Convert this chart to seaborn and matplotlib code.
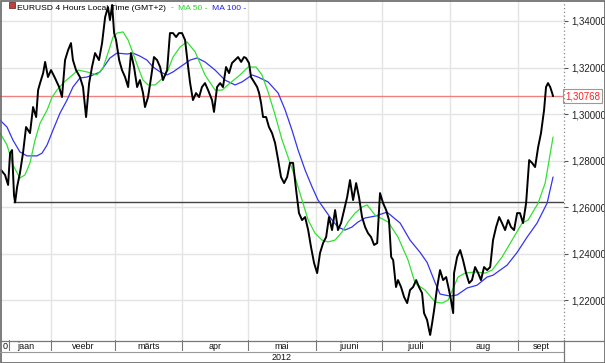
import matplotlib
matplotlib.use("Agg")
import matplotlib.pyplot as plt
import matplotlib.transforms as mtransforms
from matplotlib.lines import Line2D
from matplotlib.patches import Rectangle
from matplotlib.ticker import FixedLocator, FuncFormatter
import pandas as pd
import seaborn as sns

# ---------------- data (day = days since 2012-01-01) ----------------
price_day = [8.2, 10.0, 11.4, 12.3, 13.2, 14.1, 14.6, 15.5, 16.8, 18.2, 19.6, 21.4, 22.8, 24.2, 25.1, 26.0,
             27.4, 28.3, 29.6, 31.0, 32.8, 34.7, 36.0, 37.4, 38.8, 40.1, 41.0, 42.4, 44.2, 45.6, 47.0, 48.4,
             49.7, 51.1, 52.9, 54.3, 55.7, 57.0, 57.9, 58.9, 59.8, 60.7, 62.1, 63.4, 64.8, 66.2, 67.5, 68.9,
             70.3, 71.6, 73.0, 73.9, 75.3, 76.7, 78.0, 79.4, 80.8, 82.1, 84.0, 85.3, 86.7, 88.1, 89.4, 90.8,
             92.2, 93.6, 94.5, 95.8, 97.2, 98.6, 99.9, 101.3, 102.7, 104.5, 105.4, 106.8, 108.2, 109.5, 110.9,
             112.3, 113.6, 115.0, 116.4, 117.8, 119.1, 120.0, 121.4, 122.3, 123.7, 125.1, 126.0, 126.9, 127.8,
             129.2, 130.5, 131.9, 133.3, 134.7, 136.0, 137.4, 138.8, 140.1, 141.5, 142.9, 144.2, 145.6, 147.0,
             148.4, 149.7, 151.1, 152.5, 153.8, 155.2, 156.6, 157.9, 159.3, 160.7, 162.0, 163.4, 164.8, 166.2,
             167.5, 168.9, 170.3, 171.6, 173.0, 174.4, 175.7, 177.1, 178.5, 179.9, 181.2, 182.6, 184.0, 185.3,
             186.3, 187.2, 188.5, 189.4, 190.8, 192.2, 193.6, 194.9, 196.3, 197.7, 199.0, 200.4, 201.3, 202.7,
             203.6, 204.1, 205.0, 205.9, 207.3, 208.6, 210.0, 211.4, 212.7, 213.6, 214.6, 215.0, 216.4, 217.8,
             219.1, 220.5, 221.9, 223.2, 224.6, 226.0, 227.3, 228.7, 230.1, 231.5, 232.8, 234.2, 235.6, 236.9,
             238.3, 239.7, 241.0, 242.4, 243.8, 245.1, 246.5, 247.9, 249.3, 250.6, 252.0, 253.4, 254.7, 256.1,
             257.0, 257.9, 258.9, 259.8, 260.2]
price = [1.2759, 1.2738, 1.2695, 1.2832, 1.2845, 1.2650, 1.2620, 1.2686, 1.2746, 1.2832, 1.2944, 1.2918,
         1.3030, 1.2987, 1.3103, 1.3133, 1.3176, 1.3224, 1.3159, 1.3189, 1.3155, 1.3116, 1.3073, 1.3232,
         1.3275, 1.3305, 1.3232, 1.3189, 1.3159, 1.3116, 1.2987, 1.3133, 1.3202, 1.3262, 1.3232, 1.3305,
         1.3417, 1.3460, 1.3404, 1.3469, 1.3348, 1.3318, 1.3232, 1.3189, 1.3159, 1.3116, 1.3262, 1.3202,
         1.3116, 1.3146, 1.3090, 1.3030, 1.3073, 1.3159, 1.3245, 1.3232, 1.3202, 1.3146, 1.3189, 1.3348,
         1.3348, 1.3331, 1.3348, 1.3348, 1.3318, 1.3202, 1.3133, 1.3060, 1.3090, 1.3073, 1.3116, 1.3133,
         1.3103, 1.3060, 1.3009, 1.3116, 1.3133, 1.3116, 1.3202, 1.3176, 1.3219, 1.3232, 1.3245, 1.3224,
         1.3245, 1.3241, 1.3219, 1.3159, 1.3138, 1.3116, 1.3090, 1.3047, 1.2987, 1.2987, 1.2944, 1.2918,
         1.2875, 1.2802, 1.2729, 1.2703, 1.2729, 1.2790, 1.2790, 1.2673, 1.2574, 1.2544, 1.2557, 1.2501,
         1.2428, 1.2359, 1.2316, 1.2402, 1.2445, 1.2471, 1.2557, 1.2501, 1.2587, 1.2501, 1.2531, 1.2587,
         1.2643, 1.2716, 1.2630, 1.2703, 1.2643, 1.2557, 1.2514, 1.2488, 1.2471, 1.2437, 1.2445, 1.2660,
         1.2617, 1.2587, 1.2544, 1.2385, 1.2372, 1.2256, 1.2286, 1.2256, 1.2213, 1.2187, 1.2243, 1.2256,
         1.2286, 1.2256, 1.2230, 1.2144, 1.2114, 1.2071, 1.2050, 1.2101, 1.2157, 1.2256, 1.2329, 1.2286,
         1.2299, 1.2243, 1.2200, 1.2144, 1.2316, 1.2385, 1.2415, 1.2372, 1.2316, 1.2273, 1.2286, 1.2342,
         1.2316, 1.2286, 1.2342, 1.2329, 1.2342, 1.2458, 1.2514, 1.2557, 1.2531, 1.2501, 1.2544, 1.2514,
         1.2501, 1.2574, 1.2574, 1.2531, 1.2617, 1.2802, 1.2790, 1.2772, 1.2858, 1.2918, 1.3017, 1.3116,
         1.3133, 1.3116, 1.3090, 1.30768]

ma50_day = [7.7, 10.9, 13.6, 16.8, 19.1, 21.4, 23.7, 26.0, 29.2, 31.5, 33.7, 36.5, 39.7, 43.3, 47.4, 52.0,
            54.7, 57.0, 59.3, 61.1, 63.9, 66.2, 68.4, 70.7, 73.0, 75.3, 78.5, 82.1, 84.4, 86.7, 89.9, 93.1,
            96.8, 99.0, 101.3, 105.9, 109.1, 112.7, 117.3, 121.0, 124.6, 127.3, 130.1, 133.3, 136.5, 139.2,
            142.4, 145.6, 148.4, 151.5, 154.7, 157.5, 160.7, 163.9, 166.6, 169.8, 173.0, 175.3, 179.0, 184.9,
            189.4, 194.0, 197.2, 201.8, 206.3, 209.5, 212.3, 216.8, 220.0, 224.6, 229.2, 232.4, 236.9, 241.5,
            246.1, 248.8, 253.4, 256.6, 260.2]
ma50 = [1.2918, 1.2867, 1.2781, 1.2725, 1.2738, 1.2790, 1.2888, 1.2961, 1.3017, 1.3073, 1.3103, 1.3133,
        1.3159, 1.3189, 1.3181, 1.3168, 1.3198, 1.3262, 1.3331, 1.3348, 1.3353, 1.3318, 1.3262, 1.3202,
        1.3146, 1.3125, 1.3125, 1.3155, 1.3189, 1.3245, 1.3288, 1.3310, 1.3267, 1.3219, 1.3168, 1.3103,
        1.3103, 1.3133, 1.3168, 1.3202, 1.3202, 1.3168, 1.3095, 1.2996, 1.2888, 1.2815, 1.2729, 1.2630,
        1.2544, 1.2488, 1.2458, 1.2450, 1.2458, 1.2493, 1.2536, 1.2574, 1.2600, 1.2609, 1.2565, 1.2536,
        1.2471, 1.2372, 1.2273, 1.2243, 1.2192, 1.2187, 1.2200, 1.2299, 1.2316, 1.2321, 1.2316, 1.2329,
        1.2385, 1.2458, 1.2531, 1.2544, 1.2617, 1.2703, 1.2901]

ma100_day = [7.7, 10.9, 13.6, 16.8, 20.0, 24.6, 26.9, 29.2, 31.9, 35.1, 38.3, 41.0, 44.2, 47.4, 50.2, 53.4,
             55.7, 57.9, 61.1, 65.7, 68.4, 71.6, 74.8, 77.6, 80.8, 84.0, 86.7, 89.9, 94.5, 97.7, 101.3, 105.9,
             110.4, 115.0, 118.2, 122.8, 125.5, 130.1, 134.7, 137.9, 141.0, 143.8, 147.0, 150.2, 152.9, 156.1,
             159.3, 162.0, 165.2, 168.4, 171.2, 174.4, 178.9, 184.4, 190.4, 194.9, 199.5, 202.7, 206.3, 208.6,
             213.2, 216.4, 221.0, 225.5, 230.1, 232.8, 239.2, 243.8, 248.3, 252.9, 257.5, 260.2]
ma100 = [1.2974, 1.2944, 1.2888, 1.2837, 1.2820, 1.2820, 1.2832, 1.2867, 1.2931, 1.3004, 1.3060, 1.3116,
         1.3155, 1.3159, 1.3168, 1.3181, 1.3211, 1.3241, 1.3262, 1.3258, 1.3262, 1.3249, 1.3232, 1.3202,
         1.3181, 1.3168, 1.3181, 1.3202, 1.3232, 1.3241, 1.3224, 1.3189, 1.3146, 1.3125, 1.3138, 1.3168,
         1.3159, 1.3138, 1.3090, 1.3017, 1.2931, 1.2845, 1.2759, 1.2686, 1.2630, 1.2587, 1.2544, 1.2514,
         1.2501, 1.2514, 1.2536, 1.2553, 1.2561, 1.2578, 1.2531, 1.2458, 1.2405, 1.2362, 1.2276, 1.2226,
         1.2217, 1.2222, 1.2252, 1.2264, 1.2299, 1.2307, 1.2350, 1.2405, 1.2470, 1.2531, 1.2617, 1.2729]

last_price = 1.30768
low_level = 1.2620
low_day = 13.6
y_ticks = [1.22, 1.24, 1.26, 1.28, 1.30, 1.32, 1.34]
month_start = [0, 31, 60, 91, 121, 152, 182, 213, 244, 274]
month_labels = ["jaan", "veebr", "märts", "apr", "mai", "juuni", "juuli", "aug", "sept"]
prev_cell_end = 11.6
prev_cell_label = "0"
year_label = "2012"
title_parts = [("EURUSD 4 Hours Local Time (GMT+2)", "#000000"), ("-", "#22cc22"),
               ("MA 50 -", "#22dd22"), ("MA 100 -", "#2020ee")]

# ---------------- figure ----------------
sns.set_style("white")
plt.rcParams["font.family"] = ["Liberation Sans", "DejaVu Sans"]

W, H = 605, 363
fig = plt.figure(figsize=(W / 100, H / 100), dpi=100)
fig.patch.set_facecolor("white")

def rect(x0, y0, x1, y1):
    return [x0 / W, 1 - y1 / H, (x1 - x0) / W, (y1 - y0) / H]

ax = fig.add_axes(rect(0, 0, 564, 340))
axm = fig.add_axes(rect(0, 340, 564, 351), sharex=ax)
axy = fig.add_axes(rect(0, 351, 564, 362), sharex=ax)

XL = (7.7, 265.2)
YL = (1.20283, 1.34903)

df_p = pd.DataFrame({"day": price_day, "price": price})
df_50 = pd.DataFrame({"day": ma50_day, "v": ma50})
df_100 = pd.DataFrame({"day": ma100_day, "v": ma100})

grid_c = "#e4e4e4"
for yt in y_ticks:
    ax.axhline(yt, color=grid_c, lw=1.0, zorder=0)
for ms in month_start[1:-1]:
    ax.axvline(ms, color=grid_c, lw=1.0, zorder=0)

ax.axhline(last_price, color="#f08080", lw=1.0, zorder=1)
ax.hlines(low_level, low_day, XL[1], color="#444444", lw=1.0, zorder=1)

sns.lineplot(data=df_100, x="day", y="v", ax=ax, color="#3434f4", lw=0.9,
             estimator=None, sort=False, zorder=2)
sns.lineplot(data=df_50, x="day", y="v", ax=ax, color="#33e033", lw=0.9,
             estimator=None, sort=False, zorder=2)
sns.lineplot(data=df_p, x="day", y="price", ax=ax, color="black", lw=1.4,
             estimator=None, sort=False, zorder=3)

ax.set_xlim(*XL)
ax.set_ylim(*YL)
ax.set_xlabel("")
ax.set_ylabel("")
for s in ax.spines.values():
    s.set_visible(False)
ax.tick_params(axis="x", which="both", bottom=False, labelbottom=False)
ax.yaxis.tick_right()
ax.yaxis.set_major_locator(FixedLocator(y_ticks))
ax.yaxis.set_major_formatter(FuncFormatter(lambda v, p: f"{v:.5f}".replace(".", ",")))
ax.tick_params(axis="y", which="both", right=True, left=False, length=3, width=0.8,
               color="#555555", labelsize=7, pad=2, labelcolor="#222222")

# last price label box
trans = mtransforms.blended_transform_factory(ax.transAxes, ax.transData)
ax.text(1.0 + 1 / 564, last_price, f"{last_price:.5f}".replace(".", ","), transform=trans,
        ha="left", va="center", fontsize=7, color="#ff2020", clip_on=False, zorder=5,
        bbox=dict(boxstyle="square,pad=0.22", fc="white", ec="#999999", lw=0.8))

# header text (drawn beneath price line), pieces chained left to right
renderer = fig.canvas.get_renderer()
px = 17.0
gaps = [5, 4, 5, 0]
for (txt, col), gap in zip(title_parts, gaps):
    t = ax.text(px / 564, 1 - 8 / 340, txt, transform=ax.transAxes, ha="left", va="center",
                fontsize=6.1, color=col, zorder=1)
    ext = t.get_window_extent(renderer)
    px = ext.x1 + gap
fig.add_artist(Rectangle((9 / W, 1 - 8 / H), 6 / W, 6 / H, transform=fig.transFigure,
                         facecolor="#c04040", edgecolor="#703030", lw=0.6))

# month band
for a in (axm, axy):
    a.set_ylim(0, 1)
    a.axis("off")
axm.axvline(prev_cell_end, color="#777777", lw=0.8)
for ms in month_start[1:-1]:
    axm.axvline(ms, color="#777777", lw=0.8)
axm.text(prev_cell_end - 0.3, 0.45, prev_cell_label, ha="right", va="center", fontsize=6.5,
         color="#111111")
for lab, s, e in zip(month_labels, month_start[:-1], month_start[1:]):
    a0 = max(s, XL[0])
    a1 = min(e, XL[1])
    axm.text((a0 + a1) / 2, 0.45, lab, ha="center", va="center", fontsize=6.5, color="#111111")
axy.text((XL[0] + XL[1]) / 2, 0.45, year_label, ha="center", va="center", fontsize=6.5,
         color="#111111")

# frame lines
def fline(x0, y0, x1, y1, **kw):
    fig.add_artist(Line2D([x0 / W, x1 / W], [1 - y0 / H, 1 - y1 / H],
                          transform=fig.transFigure, **kw))

fline(0, 340.5, 605, 340.5, color="#777777", lw=0.9)
fline(0, 351.5, 564, 351.5, color="#999999", lw=0.8)
fline(564, 0, 564, 340, color="#888888", lw=0.9, ls=(0, (1, 2)))
fline(564, 340, 564, 363, color="#777777", lw=0.9)
fig.add_artist(Rectangle((0.5 / W, 0.5 / H), (W - 1) / W, (H - 1) / H, transform=fig.transFigure,
                         fill=False, edgecolor="#666666", lw=1.2))

fig.savefig("out.png", dpi=100)
